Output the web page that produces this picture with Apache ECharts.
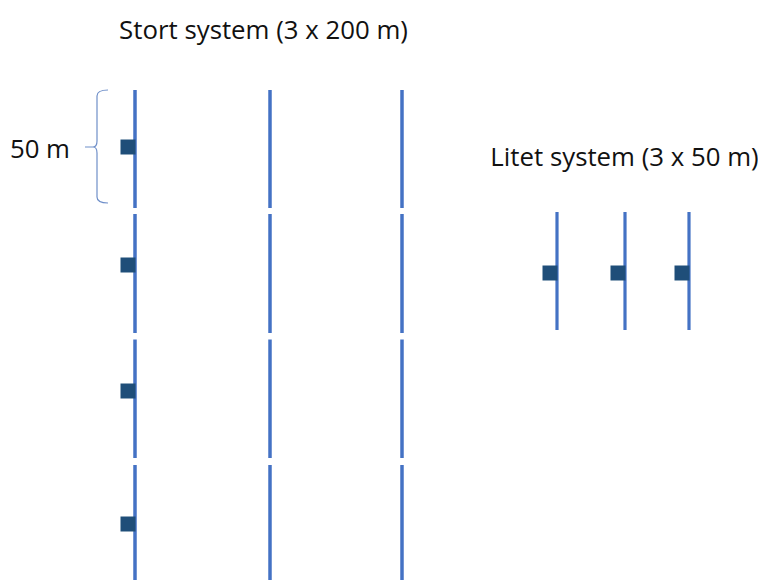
<!DOCTYPE html>
<html>
<head>
<meta charset="utf-8">
<script src="https://cdn.jsdelivr.net/npm/echarts@6/dist/echarts.min.js"></script>
<style>html,body{margin:0;padding:0;background:#fff}#c{width:758px;height:580px}</style>
</head>
<body>
<div id="c"></div>
<script>
// Data (metres)
const stortTitle = 'Stort system (3 x 200 m)';
const litetTitle = 'Litet system (3 x 50 m)';
const braceLabel = '50 m';
const stortLineX = [54, 108, 160.8];
const stortSegments = [[0, 47.2], [49.6, 97.2], [99.8, 147.2], [150, 197]];
const stortSensors = [22.8, 70, 120.4, 173.6];
const litetLineX = [222.8, 250, 275.6];
const litetSpan = [48.8, 96];
const litetSensor = 73.2;
const brace = [38.8, 43.2, 0, 22.8, 45.2]; // xInner, xOuter, yTop, yMid, yBottom
const braceTickX = [34, 37.6];

const LINE = '#4472C4', SENSOR = '#1F4E79', BRACE = '#6F8FC9';
const FONT = '"Open Sans", sans-serif';

const lineData = [];
stortLineX.forEach(x => stortSegments.forEach(s => lineData.push([x, s[0], s[1], 3.5])));
litetLineX.forEach(x => lineData.push([x, litetSpan[0], litetSpan[1], 3.2]));

const sensorData = stortSensors.map(y => [stortLineX[0], y]).concat(litetLineX.map(x => [x, litetSensor]));

const chart = echarts.init(document.getElementById('c'), null, {renderer: 'svg'});
chart.setOption({
  animation: false,
  grid: {left: 0, right: 0, top: 0, bottom: 0},
  xAxis: {type: 'value', min: 0, max: 303.2, show: false},
  yAxis: {type: 'value', min: -36, max: 196, inverse: true, show: false},
  series: [
    {
      type: 'custom', data: lineData, clip: true,
      renderItem: (params, api) => {
        const p0 = api.coord([api.value(0), api.value(1)]);
        const p1 = api.coord([api.value(0), api.value(2)]);
        return {type: 'line', shape: {x1: p0[0], y1: p0[1], x2: p1[0], y2: p1[1]},
                style: {stroke: LINE, lineWidth: api.value(3)}};
      }
    },
    {
      type: 'scatter', data: sensorData, symbol: 'rect', symbolSize: [15, 15], symbolOffset: [-7, 0],
      itemStyle: {color: SENSOR, opacity: 1}, emphasis: {disabled: true}, z: 3
    },
    {
      type: 'custom', data: [brace],
      renderItem: (params, api) => {
        const xi = api.coord([api.value(0), 0])[0];
        const xo = api.coord([api.value(1), 0])[0];
        const yt = api.coord([0, api.value(2)])[1];
        const ym = api.coord([0, api.value(3)])[1];
        const yb = api.coord([0, api.value(4)])[1];
        const t0 = api.coord([braceTickX[0], 0])[0];
        const t1 = api.coord([braceTickX[1], 0])[0];
        const r = 6, tip = xi - 4;
        const d = `M${xo},${yt} Q${xi},${yt} ${xi},${yt + r} L${xi},${ym - r} Q${xi},${ym} ${tip},${ym} ` +
                  `Q${xi},${ym} ${xi},${ym + r} L${xi},${yb - r} Q${xi},${yb} ${xo},${yb} M${t0},${ym} L${t1},${ym}`;
        return {type: 'path', shape: {pathData: d}, style: {stroke: BRACE, lineWidth: 1.2, fill: null}};
      }
    }
  ],
  graphic: [
    {type: 'text', x: 263.5, y: 29, style: {text: stortTitle, font: '25.8px ' + FONT, fill: '#111', align: 'center', verticalAlign: 'middle'}},
    {type: 'text', x: 624.5, y: 156, style: {text: litetTitle, font: '25.8px ' + FONT, fill: '#111', align: 'center', verticalAlign: 'middle'}},
    {type: 'text', x: 70, y: 148, style: {text: braceLabel, font: '25.8px ' + FONT, fill: '#111', align: 'right', verticalAlign: 'middle'}}
  ]
});
</script>
</body>
</html>
